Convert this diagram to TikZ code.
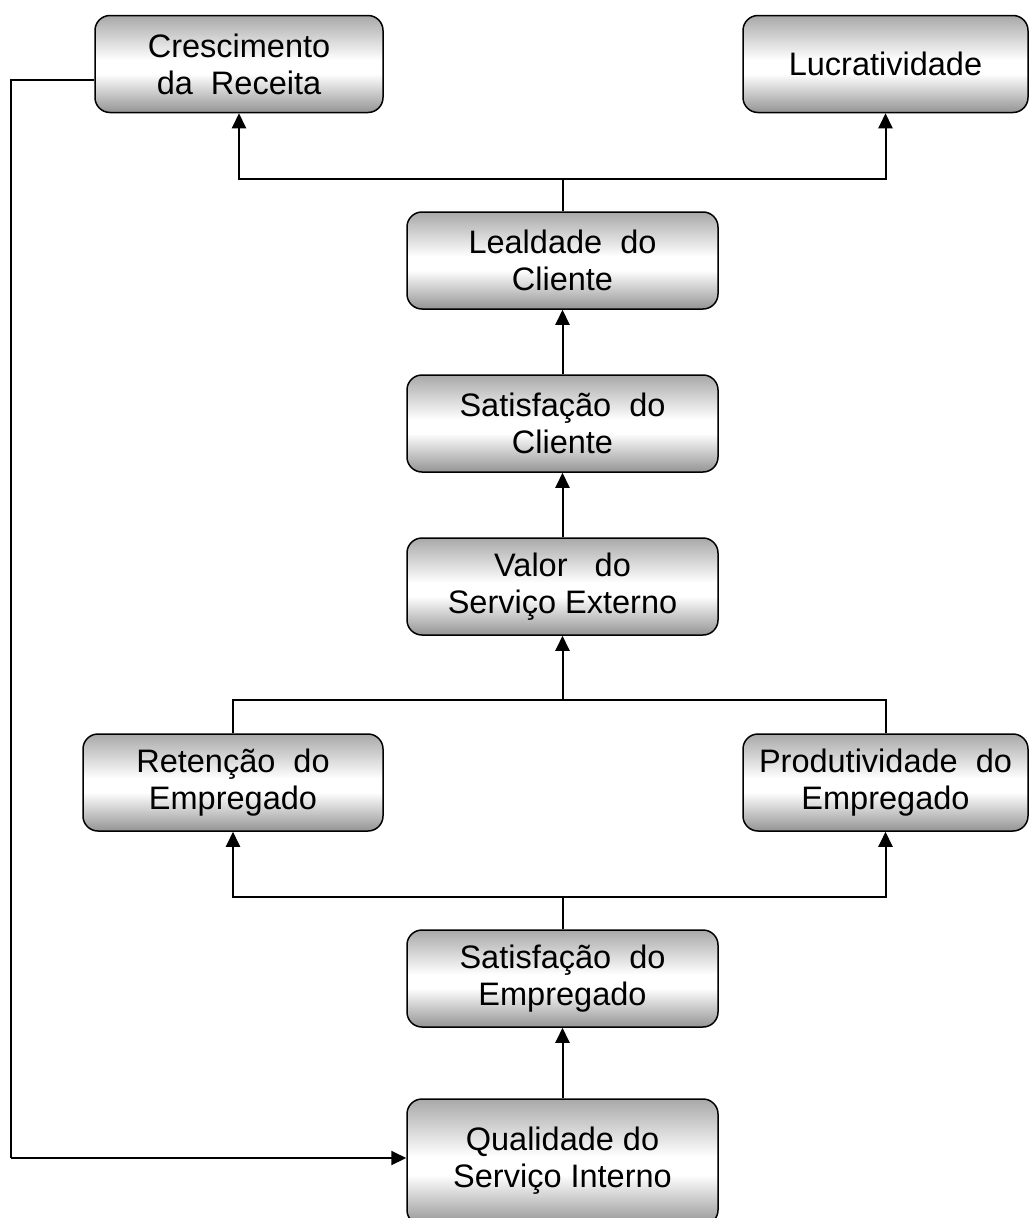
\documentclass[tikz,border=0pt]{standalone}
\usepackage{fontspec}
\setmainfont{Liberation Sans}
\usetikzlibrary{arrows.meta}

% vertical grey-white-grey fill of the boxes (path mapped onto 25bp..75bp)
\pgfdeclareverticalshading{boxshade}{100bp}{%
  color(0bp)=(black!42); color(25bp)=(black!42);
  color(45bp)=(white); color(52bp)=(white);
  color(75bp)=(black!34); color(100bp)=(black!34)}

\tikzset{
  boxnode/.style={draw=black, line width=1.5pt, rounded corners=15pt,
    shading=boxshade, minimum height=97pt, align=center,
    font=\fontsize{32.5}{37}\selectfont, inner sep=0pt},
  narrowbox/.style={boxnode, minimum width=311pt},
  link/.style={line width=2pt},
  arr/.style={link, -{Triangle[width=14pt,length=15pt]}}
}

\begin{document}
\begin{tikzpicture}[x=1pt,y=-1pt]
\useasboundingbox (0,0) rectangle (1029,1218);

% boxes
\node[boxnode, minimum width=288pt] (cresc) at (239,64) {Crescimento\\da\ \ Receita};
\node[boxnode, minimum width=285pt] (lucro) at (885.5,64) {Lucratividade};
\node[narrowbox] (leal) at (562.5,260.5) {Lealdade\ \ do\\Cliente};
\node[narrowbox] (satcli) at (562.5,423.5) {Satisfação\ \ do\\Cliente};
\node[narrowbox] (valor) at (562.5,586.5) {Valor\ \ \ do\\Serviço Externo};
\node[boxnode, minimum width=300pt] (reten) at (233,782.5) {Retenção\ \ do\\Empregado};
\node[boxnode, minimum width=285pt] (prod) at (885.5,782.5) {Produtividade\ \ do\\Empregado};
\node[narrowbox] (satemp) at (562.5,978.5) {Satisfação\ \ do\\Empregado};
% the lowest box runs past the lower edge of the page; its text sits a bit high
\node[narrowbox, minimum height=126pt] (qual) at (562.5,1162)
  {\raisebox{6pt}{\begin{tabular}{@{}c@{}}Qualidade do\\Serviço Interno\end{tabular}}};

% junction points of the branching connectors
\coordinate (jtop) at (562.5,179);
\coordinate (jmid) at (562.5,700);
\coordinate (jlow) at (562.5,897);
\coordinate (fb1) at (11,80);
\coordinate (fb2) at (11,1158);

% loyalty feeds revenue growth and profitability
\draw[link] (leal.north) -- (jtop);
\draw[arr] (jtop) -| (cresc.south);
\draw[arr] (jtop) -| (lucro.south);

% vertical chain
\draw[arr] (satcli.north) -- (leal.south);
\draw[arr] (valor.north) -- (satcli.south);
\draw[arr] (qual.north) -- (satemp.south);

% retention and productivity feed external service value
\draw[link] (reten.north) |- (jmid) -| (prod.north);
\draw[arr] (jmid) -- (valor.south);

% employee satisfaction feeds retention and productivity
\draw[link] (satemp.north) -- (jlow);
\draw[arr] (jlow) -| (reten.south);
\draw[arr] (jlow) -| (prod.south);

% feedback loop from revenue growth to internal service quality
\draw[link] (cresc.west |- fb1) -- (fb1) -- (fb2);
\draw[arr] (fb2) -- (qual.west |- fb2);
\end{tikzpicture}
\end{document}
